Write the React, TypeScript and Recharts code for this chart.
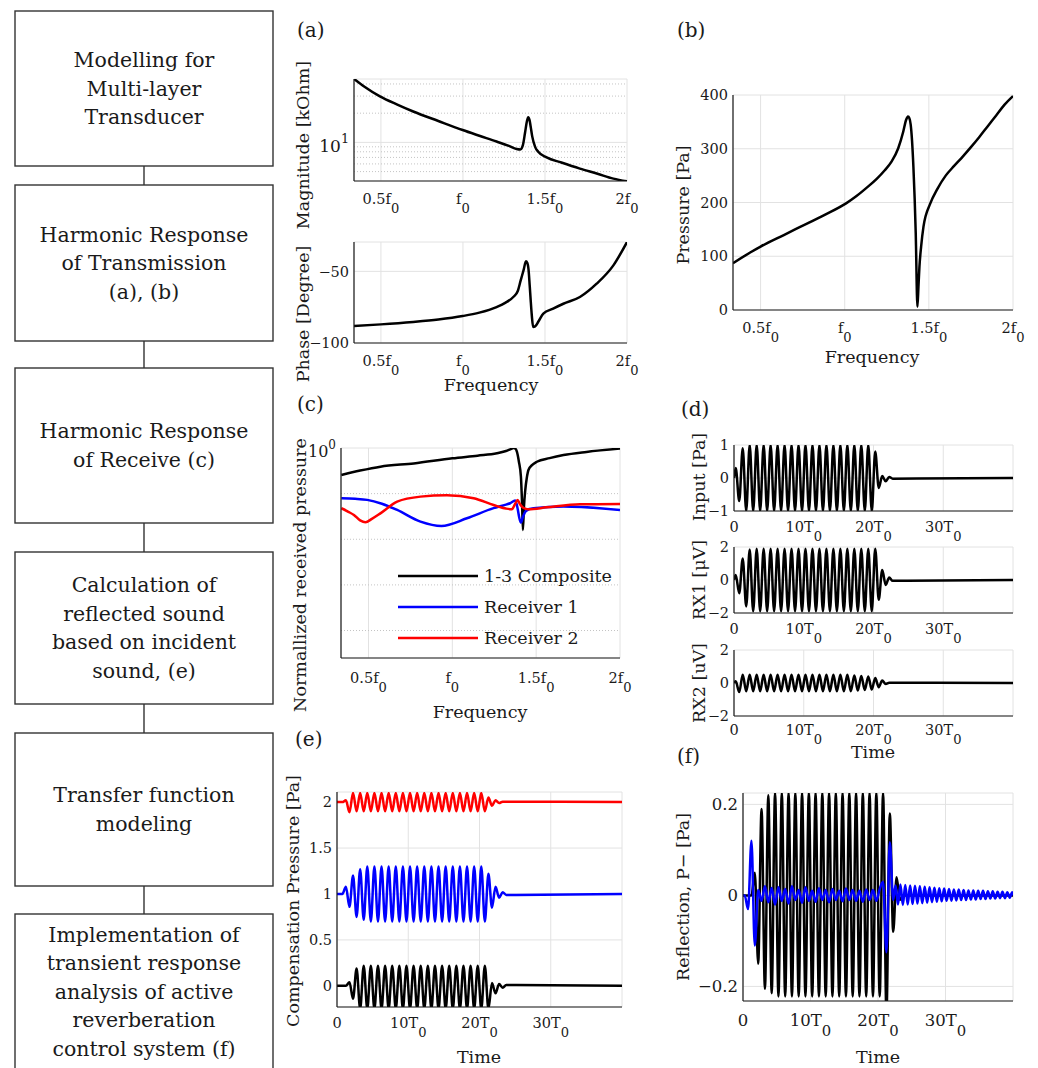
import React from 'react';
import { LineChart, Line, XAxis, YAxis, CartesianGrid, ReferenceLine, Legend } from 'recharts';

const FONT = '"DejaVu Serif", serif';
const INK = '#1a1a1a';
const GRID = '#e2e2e2';
const MINOR = '#c4c4c4';

// ---- axes ----
const FREQ_DOMAIN: [number, number] = [0.336, 2];
const FREQ_TICKS = [0.5, 1, 1.5, 2];
const FREQ_LABELS = ['0.5f', 'f', '1.5f', '2f'];
const FREQ_SUBS = ['0', '0', '0', '0'];

const TIME_DOMAIN: [number, number] = [0, 40];
const TIME_TICKS = [0, 10, 20, 30];
const TIME_LABELS = ['0', '10T', '20T', '30T'];
const TIME_SUBS = ['', '0', '0', '0'];

// ---- (a) magnitude [kOhm], log ----
const MAG_F = [0.336, 0.4, 0.494, 0.6, 0.697, 0.85, 0.998, 1.1, 1.205, 1.28, 1.327, 1.35, 1.365, 1.378, 1.39, 1.398, 1.406, 1.413, 1.422, 1.44, 1.459, 1.51, 1.6, 1.713, 1.82, 1.917, 2.0];
const MAG_KOHM = [45.1, 37.5, 29.8, 24.5, 20.8, 16.6, 13.4, 11.7, 10.2, 9.2, 8.55, 8.45, 9.3, 12.4, 16.5, 18.2, 17.0, 14.5, 11.6, 9.0, 8.0, 7.0, 6.2, 5.37, 4.75, 4.23, 3.97];
const MAG_MINOR = [5, 6, 7, 8, 9, 20, 30, 40];

// ---- (a) phase [deg] ----
const PH_F = [0.336, 0.5, 0.697, 0.85, 0.998, 1.1, 1.205, 1.26, 1.307, 1.335, 1.352, 1.37, 1.384, 1.392, 1.4, 1.407, 1.413, 1.42, 1.428, 1.44, 1.46, 1.49, 1.55, 1.612, 1.713, 1.815, 1.917, 2.0];
const PH_DEG = [-88.1, -87.0, -85.3, -83.6, -81.2, -78.8, -74.9, -71.8, -67.9, -63.5, -56.3, -49, -43.0, -44, -49, -60, -70.2, -81, -88.8, -88.4, -85, -79.5, -76, -72.6, -67.9, -58.6, -45.8, -29.5];

// ---- (b) pressure [Pa] ----
const PR_F = [0.336, 0.438, 0.5, 0.638, 0.738, 0.878, 1.008, 1.07, 1.138, 1.19, 1.238, 1.278, 1.318, 1.348, 1.364, 1.376, 1.384, 1.392, 1.4, 1.408, 1.422, 1.432, 1.438, 1.444, 1.454, 1.468, 1.508, 1.55, 1.6, 1.65, 1.7, 1.75, 1.8, 1.85, 1.9, 1.95, 2.0];
const PR_PA = [87, 107, 118, 139.5, 155, 176.7, 198.4, 212, 229.5, 244, 260, 276, 301, 332, 353, 360, 357, 345, 315, 267, 142.6, 6, 43, 80.6, 118, 155, 198, 225, 250, 268, 285, 303, 322, 342, 362, 382, 398];

// ---- (c) normalized received pressure, log ----
const C1_F = [0.338, 0.45, 0.571, 0.77, 1.0, 1.15, 1.266, 1.32, 1.345, 1.365, 1.375, 1.385, 1.397, 1.409, 1.416, 1.421, 1.427, 1.435, 1.444, 1.454, 1.475, 1.504, 1.58, 1.663, 1.8, 2.0];
const C1_V = [0.257, 0.32, 0.39, 0.46, 0.594, 0.68, 0.764, 0.86, 0.935, 1.0, 0.97, 0.83, 0.5, 0.236, 0.06, 0.016, 0.05, 0.12, 0.22, 0.33, 0.42, 0.5, 0.6, 0.7, 0.82, 0.97];
const C2_F = [0.338, 0.42, 0.492, 0.58, 0.671, 0.81, 0.935, 1.087, 1.246, 1.31, 1.345, 1.375, 1.389, 1.399, 1.409, 1.42, 1.435, 1.46, 1.484, 1.663, 2.0];
const C2_V = [0.079, 0.077, 0.073, 0.06, 0.0439, 0.0244, 0.0196, 0.0288, 0.048, 0.056, 0.0615, 0.0703, 0.048, 0.03, 0.0232, 0.03, 0.04, 0.046, 0.048, 0.052, 0.0437];
const C3_F = [0.338, 0.38, 0.413, 0.45, 0.482, 0.52, 0.571, 0.671, 0.81, 0.968, 1.127, 1.246, 1.32, 1.355, 1.375, 1.389, 1.402, 1.415, 1.434, 1.454, 1.563, 1.762, 2.0];
const C3_V = [0.048, 0.04, 0.034, 0.026, 0.0236, 0.028, 0.037, 0.0668, 0.086, 0.092, 0.079, 0.0564, 0.047, 0.0454, 0.06, 0.0727, 0.06, 0.052, 0.047, 0.0454, 0.05, 0.0584, 0.0596];
const C_MINOR = [0.1, 0.01, 0.001, 0.0001];

// ---- time signals: extremes every half period T0/2 ----
const EXT_T = [0.25, 0.75, 1.25, 1.75, 2.25, 2.75, 3.25, 3.75, 4.25, 4.75, 5.25, 5.75, 6.25, 6.75, 7.25, 7.75, 8.25, 8.75, 9.25, 9.75, 10.25, 10.75, 11.25, 11.75, 12.25, 12.75, 13.25, 13.75, 14.25, 14.75, 15.25, 15.75, 16.25, 16.75, 17.25, 17.75, 18.25, 18.75, 19.25, 19.75, 20.25, 20.75, 21.25, 21.75, 22.25, 22.75, 23.25, 23.75, 24.25, 24.75];

// (d) input [Pa]
const D_INPUT = [0.3, -0.7, 0.9, -1,
  1, -1, 1, -1, 1, -1, 1, -1, 1, -1,
  1, -1, 1, -1, 1, -1, 1, -1, 1, -1,
  1, -1, 1, -1, 1, -1, 1, -1, 1, -1,
  1, -1, 1, -1, 1, -1,
  0.8, -0.3, 0.06, -0.1, 0.03, -0.02];
// (d) RX1 [uV]
const D_RX1 = [0.3, -0.8, 1.3, -1.6, 1.85, -1.9,
  1.9, -1.9, 1.9, -1.9, 1.9, -1.9, 1.9, -1.9, 1.9, -1.9,
  1.9, -1.9, 1.9, -1.9, 1.9, -1.9, 1.9, -1.9, 1.9, -1.9,
  1.9, -1.9, 1.9, -1.9, 1.9, -1.9, 1.9, -1.9, 1.9, -1.9,
  1.9, -1.9, 1.9, -1.9,
  1.9, -1.2, 0.6, -0.3, 0.15, -0.05];
// (d) RX2 [uV]
const D_RX2 = [0.1, -0.55, 0.5, -0.5,
  0.5, -0.5, 0.5, -0.5, 0.5, -0.5, 0.5, -0.5, 0.5, -0.5,
  0.5, -0.5, 0.5, -0.5, 0.5, -0.5, 0.5, -0.5, 0.5, -0.5,
  0.5, -0.5, 0.5, -0.5, 0.5, -0.5, 0.5, -0.5, 0.5, -0.5,
  0.45, -0.45, 0.42, -0.42, 0.4, -0.4,
  0.3, -0.25, 0.15, -0.06, 0.02];

// (e) compensation pressure, three offset traces
const E_BLACK = [0, 0, 0, 0.04, -0.14, 0.19,
  -0.25, 0.22, -0.25, 0.22, -0.25, 0.22, -0.25, 0.22, -0.25, 0.22,
  -0.25, 0.22, -0.25, 0.22, -0.25, 0.22, -0.25, 0.22, -0.25, 0.22,
  -0.25, 0.22, -0.25, 0.22, -0.25, 0.22, -0.25, 0.22, -0.25, 0.22,
  -0.25, 0.22, -0.25, 0.22, -0.25, 0.22, -0.25,
  0.03, -0.08, 0.02, -0.02, 0.01];
const E_BLUE = [1, 1, 1.08, 0.86, 1.2, 0.75, 1.27, 0.72,
  1.3, 0.7, 1.3, 0.7, 1.3, 0.7, 1.3, 0.7, 1.3, 0.7,
  1.3, 0.7, 1.3, 0.7, 1.3, 0.7, 1.3, 0.7, 1.3, 0.7,
  1.3, 0.7, 1.3, 0.7, 1.3, 0.7, 1.3, 0.7, 1.3, 0.7,
  1.3, 0.7, 1.3, 0.7,
  1.22, 0.85, 1.08, 0.96, 1.02, 0.99];
const E_RED = [2, 2, 2.02, 1.89, 2.1, 1.9,
  2.1, 1.9, 2.1, 1.9, 2.1, 1.9, 2.1, 1.9, 2.1, 1.9,
  2.1, 1.9, 2.1, 1.9, 2.1, 1.9, 2.1, 1.9, 2.1, 1.9,
  2.1, 1.9, 2.1, 1.9, 2.1, 1.9, 2.1, 1.9, 2.1, 1.9,
  2.1, 1.9, 2.1, 1.9, 2.1, 1.9,
  2.05, 1.96, 2.02, 1.99, 2.005];

// (f) reflection P-
const F_BLACK = [0, 0, 0, 0.05, -0.15, 0.19, -0.205, 0.22, -0.215,
  0.225, -0.222, 0.225, -0.222, 0.225, -0.222, 0.225, -0.222,
  0.225, -0.222, 0.225, -0.222, 0.225, -0.222, 0.225, -0.222,
  0.225, -0.222, 0.225, -0.222, 0.225, -0.222, 0.225, -0.222,
  0.225, -0.222, 0.225, -0.222, 0.225, -0.222, 0.225, -0.222, 0.225,
  -0.26, 0.18, -0.08, 0.04, -0.01, 0];
const F_BLUE = [0, -0.03, 0.12, -0.11, 0.012, -0.012, 0.02, -0.015, 0.016, -0.02,
  0.018, -0.012, 0.014, -0.018, 0.02, -0.01, 0.012, -0.016, 0.018, -0.012,
  0.01, -0.014, 0.016, -0.01, 0.012, -0.015, 0.014, -0.01, 0.01, -0.013,
  0.015, -0.01, 0.012, -0.012, 0.01, -0.014, 0.013, -0.01, 0.012, -0.012, 0.014,
  0.03, -0.125, 0.117, -0.01];
const F_RING_T = [22.6, 22.96, 23.32, 23.68, 24.04, 24.4, 24.76, 25.12, 25.48, 25.84, 26.2, 26.56, 26.92, 27.28, 27.64, 28.0, 28.36, 28.72, 29.08, 29.44, 29.8, 30.16, 30.52, 30.88, 31.24, 31.6, 31.96, 32.32, 32.68, 33.04, 33.4, 33.76, 34.12, 34.48, 34.84, 35.2, 35.56, 35.92, 36.28, 36.64, 37.0, 37.36, 37.72, 38.08, 38.44, 38.8, 39.16, 39.52, 39.88];
const F_RING_V = [0.022, -0.02, 0.024, -0.021, 0.023, -0.02, 0.022, -0.019, 0.021, -0.018,
  0.02, -0.017, 0.019, -0.016, 0.018, -0.015, 0.017, -0.014, 0.016, -0.013,
  0.015, -0.012, 0.014, -0.012, 0.013, -0.011, 0.013, -0.01, 0.012, -0.01,
  0.011, -0.009, 0.011, -0.009, 0.01, -0.008, 0.01, -0.008, 0.009, -0.007,
  0.009, -0.007, 0.008, -0.006, 0.008, -0.006, 0.007, -0.005, 0.007];

type Pt = { x: number; y: number };
const pts = (xs: number[], ys: number[]): Pt[] => xs.map((x, i) => ({ x, y: ys[i] }));
const burst = (vals: number[], base: number, tail: Pt[] = []): Pt[] => [
  { x: 0, y: base },
  ...vals.map((v, i) => ({ x: EXT_T[i], y: v })),
  ...tail,
  { x: 40, y: base },
];

// ---- layout ----
type Box = { x0: number; y0: number; x1: number; y1: number };
const YW = 56, MT = 12, MR = 22, XH = 48;

const xTick = (ticks: number[], labels: string[], subs: string[], base: number, size: number) => (p: any) => {
  const i = ticks.indexOf(p.payload.value);
  if (i < 0) return <g />;
  return (
    <text x={p.x} y={p.y + base} textAnchor="middle" fontFamily={FONT} fontSize={size} fill={INK}>
      {labels[i]}
      {subs[i] ? <tspan dy={size * 0.62} fontSize={size * 0.9}>{subs[i]}</tspan> : null}
    </text>
  );
};

const yTick = (ticks: number[], labels: string[], sups: string[] | undefined, size: number) => (p: any) => {
  const i = ticks.indexOf(p.payload.value);
  if (i < 0) return <g />;
  const sup = sups ? sups[i] : '';
  return (
    <text x={p.x - 5} y={p.y + (sup ? size * 0.55 : size * 0.36)} textAnchor="end" fontFamily={FONT} fontSize={size} fill={INK}>
      {labels[i]}
      {sup ? <tspan dy={-size * 0.5} fontSize={size * 0.75}>{sup}</tspan> : null}
    </text>
  );
};

type Series = { name: string; color: string; points: Pt[] };

const legendContent = (p: any) => (
  <svg width={250} height={100}>
    {(p.payload || []).map((e: any, i: number) => (
      <g key={i}>
        <line x1={0} x2={80} y1={14 + i * 31} y2={14 + i * 31} stroke={e.color} strokeWidth={2.5} />
        <text x={86} y={14 + i * 31} dominantBaseline="central" fontFamily={FONT} fontSize={17.5} fill={INK}>{e.value}</text>
      </g>
    ))}
  </svg>
);

function Panel(props: {
  box: Box;
  time?: boolean;
  yDomain: [number, number];
  yTicks: number[];
  yLabels: string[];
  ySups?: string[];
  log?: boolean;
  series: Series[];
  tickBase: number;
  tickSize?: number;
  yTickSize?: number;
  minor?: number[];
  legendAt?: { x: number; y: number };
}) {
  const { box } = props;
  const w = box.x1 - box.x0 + YW + MR;
  const h = box.y1 - box.y0 + MT + XH;
  const size = props.tickSize ?? 14.5;
  const left = box.x0 - YW;
  const top = box.y0 - MT;
  return (
    <div style={{ position: 'absolute', left, top }}>
      <LineChart width={w} height={h} margin={{ top: MT, right: MR, bottom: 0, left: 0 }}>
        <CartesianGrid stroke={GRID} strokeWidth={1} />
        {(props.minor || []).map((v) => (
          <ReferenceLine key={v} y={v} stroke={MINOR} strokeDasharray="1 2" strokeWidth={1} />
        ))}
        <XAxis
          type="number"
          dataKey="x"
          domain={props.time ? TIME_DOMAIN : FREQ_DOMAIN}
          ticks={props.time ? TIME_TICKS : FREQ_TICKS}
          allowDataOverflow
          interval={0}
          height={XH}
          tickSize={0}
          tickMargin={0}
          tickLine={false}
          axisLine={{ stroke: INK, strokeWidth: 1.2 }}
          tick={props.time
            ? xTick(TIME_TICKS, TIME_LABELS, TIME_SUBS, props.tickBase, size)
            : xTick(FREQ_TICKS, FREQ_LABELS, FREQ_SUBS, props.tickBase, size)}
        />
        <YAxis
          type="number"
          scale={props.log ? 'log' : 'linear'}
          domain={props.yDomain}
          ticks={props.yTicks}
          allowDataOverflow
          interval={0}
          width={YW}
          tickSize={0}
          tickMargin={0}
          tickLine={false}
          axisLine={{ stroke: INK, strokeWidth: 1.2 }}
          tick={yTick(props.yTicks, props.yLabels, props.ySups, props.yTickSize ?? size)}
        />
        {props.series.map((s) => (
          <Line
            key={s.name}
            name={s.name}
            data={s.points}
            dataKey="y"
            type="monotone"
            stroke={s.color}
            strokeWidth={2.5}
            dot={false}
            activeDot={false}
            isAnimationActive={false}
          />
        ))}
        {props.legendAt && (
          <Legend
            layout="vertical"
            align="center"
            verticalAlign="middle"
            content={legendContent}
            wrapperStyle={{ left: props.legendAt.x - left, top: props.legendAt.y - 14 - top, width: 250, height: 100 }}
          />
        )}
      </LineChart>
    </div>
  );
}

const STEPS = [
  { top: 11, bottom: 166, lines: ['Modelling for', 'Multi-layer', 'Transducer'] },
  { top: 185, bottom: 341, lines: ['Harmonic Response', 'of Transmission', '(a), (b)'] },
  { top: 368, bottom: 523, lines: ['Harmonic Response', 'of Receive (c)'] },
  { top: 552, bottom: 704, lines: ['Calculation of', 'reflected sound', 'based on incident', 'sound, (e)'] },
  { top: 733, bottom: 886, lines: ['Transfer function', 'modeling'] },
  { top: 914, bottom: 1069, lines: ['Implementation of', 'transient response', 'analysis of active', 'reverberation', 'control system (f)'] },
];

const VLabel = ({ x, y, children }: { x: number; y: number; children: React.ReactNode }) => (
  <text transform={`translate(${x},${y}) rotate(-90)`} textAnchor="middle" dominantBaseline="central" fontSize={17.5}>
    {children}
  </text>
);
const HLabel = ({ x, y, children }: { x: number; y: number; children: React.ReactNode }) => (
  <text x={x} y={y} textAnchor="middle" fontSize={17.5}>{children}</text>
);

function Overlay() {
  return (
    <svg width={1038} height={1068} style={{ position: 'absolute', left: 0, top: 0, pointerEvents: 'none' }} fontFamily={FONT} fill={INK}>
      {STEPS.map((s, i) => {
        const mid = (s.top + s.bottom) / 2;
        const lh = 28.5;
        const first = mid - ((s.lines.length - 1) * lh) / 2;
        return (
          <g key={i}>
            <rect x={15} y={s.top} width={258} height={s.bottom - s.top} fill="none" stroke="#333" strokeWidth={1.4} />
            {i > 0 && <line x1={144} x2={144} y1={STEPS[i - 1].bottom} y2={s.top} stroke="#333" strokeWidth={1.4} />}
            {s.lines.map((t, j) => (
              <text key={j} x={144} y={first + j * lh} textAnchor="middle" dominantBaseline="central" fontSize={20.5}>{t}</text>
            ))}
          </g>
        );
      })}
      <g fontSize={20}>
        <text x={297} y={37}>(a)</text>
        <text x={677} y={37}>(b)</text>
        <text x={297} y={411}>(c)</text>
        <text x={681} y={416}>(d)</text>
        <text x={295} y={746}>(e)</text>
        <text x={677} y={763}>(f)</text>
      </g>
      <VLabel x={303} y={145}>Magnitude [kOhm]</VLabel>
      <VLabel x={303} y={314}>Phase [Degree]</VLabel>
      <HLabel x={491} y={391}>Frequency</HLabel>
      <VLabel x={683} y={205}>Pressure [Pa]</VLabel>
      <HLabel x={872} y={363}>Frequency</HLabel>
      <VLabel x={300} y={575}>Normallized received pressure</VLabel>
      <HLabel x={480} y={718}>Frequency</HLabel>
      <VLabel x={699} y={477}>Input [Pa]</VLabel>
      <VLabel x={699} y={580}>RX1 [μV]</VLabel>
      <VLabel x={699} y={683}>RX2 [uV]</VLabel>
      <HLabel x={873} y={758}>Time</HLabel>
      <VLabel x={293} y={901}>Compensation Pressure [Pa]</VLabel>
      <HLabel x={479} y={1063}>Time</HLabel>
      <VLabel x={683} y={897}>Reflection, P− [Pa]</VLabel>
      <HLabel x={878} y={1063}>Time</HLabel>
    </svg>
  );
}

export default function App() {
  return (
    <div style={{ position: 'absolute', left: 0, top: 0, width: 1038, height: 1068, overflow: 'hidden', background: '#fff' }}>
      <Panel
        box={{ x0: 354, y0: 79, x1: 627, y1: 181 }}
        log
        yDomain={[4, 45]}
        yTicks={[10]}
        yLabels={['10']}
        ySups={['1']}
        yTickSize={17}
        minor={MAG_MINOR}
        tickBase={23}
        series={[{ name: 'Magnitude', color: '#000', points: pts(MAG_F, MAG_KOHM) }]}
      />
      <Panel
        box={{ x0: 354, y0: 242, x1: 627, y1: 343 }}
        yDomain={[-100, -29.5]}
        yTicks={[-100, -50]}
        yLabels={['−100', '−50']}
        tickBase={23}
        series={[{ name: 'Phase', color: '#000', points: pts(PH_F, PH_DEG) }]}
      />
      <Panel
        box={{ x0: 733, y0: 95, x1: 1013, y1: 310 }}
        yDomain={[0, 400]}
        yTicks={[0, 100, 200, 300, 400]}
        yLabels={['0', '100', '200', '300', '400']}
        tickBase={23}
        series={[{ name: 'Pressure', color: '#000', points: pts(PR_F, PR_PA) }]}
      />
      <Panel
        box={{ x0: 341, y0: 448, x1: 620, y1: 658 }}
        log
        yDomain={[2.5e-5, 1]}
        yTicks={[1]}
        yLabels={['10']}
        ySups={['0']}
        yTickSize={16}
        minor={C_MINOR}
        tickBase={25}
        legendAt={{ x: 398, y: 576 }}
        series={[
          { name: '1-3 Composite', color: '#000', points: pts(C1_F, C1_V) },
          { name: 'Receiver 1', color: '#0000ff', points: pts(C2_F, C2_V) },
          { name: 'Receiver 2', color: '#ff0000', points: pts(C3_F, C3_V) },
        ]}
      />
      <Panel
        box={{ x0: 734, y0: 445, x1: 1013, y1: 511 }}
        time
        yDomain={[-1, 1]}
        yTicks={[-1, 0, 1]}
        yLabels={['−1', '0', '1']}
        tickBase={21}
        series={[{ name: 'Input', color: '#000', points: burst(D_INPUT, 0) }]}
      />
      <Panel
        box={{ x0: 734, y0: 547, x1: 1013, y1: 613 }}
        time
        yDomain={[-2, 2]}
        yTicks={[-2, 0, 2]}
        yLabels={['−2', '0', '2']}
        tickBase={21}
        series={[{ name: 'RX1', color: '#000', points: burst(D_RX1, 0) }]}
      />
      <Panel
        box={{ x0: 734, y0: 650, x1: 1013, y1: 716 }}
        time
        yDomain={[-2, 2]}
        yTicks={[-2, 0, 2]}
        yLabels={['−2', '0', '2']}
        tickBase={19}
        series={[{ name: 'RX2', color: '#000', points: burst(D_RX2, 0) }]}
      />
      <Panel
        box={{ x0: 337, y0: 792, x1: 622, y1: 1007 }}
        time
        yDomain={[-0.23, 2.11]}
        yTicks={[0, 0.5, 1, 1.5, 2]}
        yLabels={['0', '0.5', '1', '1.5', '2']}
        tickBase={21}
        series={[
          { name: 'Comp 0', color: '#000', points: burst(E_BLACK, 0) },
          { name: 'Comp 1', color: '#0000ff', points: burst(E_BLUE, 1) },
          { name: 'Comp 2', color: '#ff0000', points: burst(E_RED, 2) },
        ]}
      />
      <Panel
        box={{ x0: 743, y0: 793, x1: 1013, y1: 1001 }}
        time
        yDomain={[-0.232, 0.225]}
        yTicks={[-0.2, 0, 0.2]}
        yLabels={['−0.2', '0', '0.2']}
        tickBase={25}
        tickSize={16.5}
        series={[
          { name: 'Reflection', color: '#000', points: burst(F_BLACK, 0) },
          { name: 'Controlled', color: '#0000ff', points: burst(F_BLUE, 0, pts(F_RING_T, F_RING_V)) },
        ]}
      />
      <Overlay />
    </div>
  );
}
